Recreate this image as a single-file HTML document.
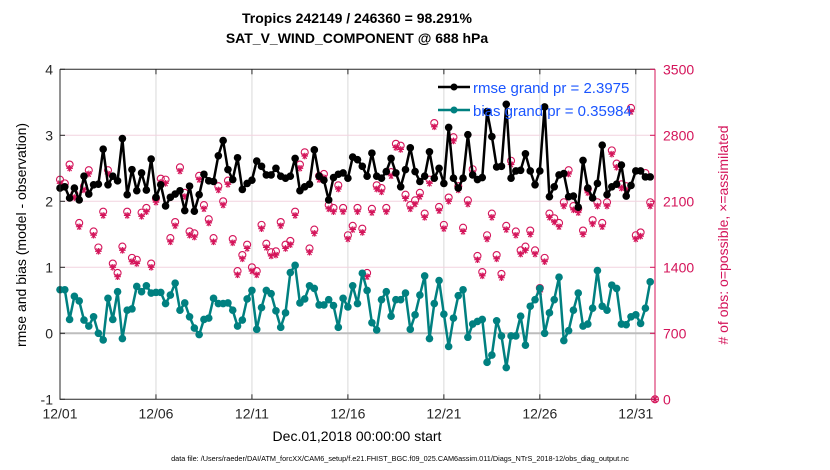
<!DOCTYPE html>
<html><head><meta charset="utf-8">
<style>
html,body{margin:0;padding:0;background:#fff;}
svg{display:block;font-family:"Liberation Sans",sans-serif;}
</style></head>
<body>
<svg id="chart" width="830" height="470" viewBox="0 0 830 470">
<text x="357" y="23" text-anchor="middle" font-size="14" font-weight="bold">Tropics 242149 / 246360 = 98.291%</text>
<text x="357" y="43" text-anchor="middle" font-size="14" font-weight="bold">SAT_V_WIND_COMPONENT @ 688 hPa</text>
<g id="grid"></g>
<g id="marks"></g>
<g id="axes"></g>
<text transform="translate(26,235) rotate(-90)" text-anchor="middle" font-size="14">rmse and bias (model - observation)</text>
<text transform="translate(728,235) rotate(-90)" text-anchor="middle" font-size="14" fill="#d4145a"># of obs: o=possible, ×=assimilated</text>
<text x="357" y="441" text-anchor="middle" font-size="14">Dec.01,2018 00:00:00 start</text>
<text x="400" y="461" text-anchor="middle" font-size="7.3">data file: /Users/raeder/DAI/ATM_forcXX/CAM6_setup/f.e21.FHIST_BGC.f09_025.CAM6assim.011/Diags_NTrS_2018-12/obs_diag_output.nc</text>
<g>
<line x1="438" y1="87" x2="470" y2="87" stroke="#000" stroke-width="2.5"/>
<circle cx="454" cy="87" r="3.5" fill="#000"/>
<text x="473" y="93" font-size="15" fill="#1a55ff">rmse grand pr = 2.3975</text>
<line x1="438" y1="110" x2="470" y2="110" stroke="#008080" stroke-width="2.5"/>
<circle cx="454" cy="110" r="3.5" fill="#008080"/>
<text x="473" y="116" font-size="15" fill="#1a55ff">bias grand pr = 0.35984</text>
</g>
</svg>
<script>
const xTickLabels = ["12/01","12/06","12/11","12/16","12/21","12/26","12/31"];
const xTickDays = [0,5,10,15,20,25,30];
const leftTicks = [-1,0,1,2,3,4];
const rightTicks = [0,700,1400,2100,2800,3500];
const rmse = [2.20,2.22,2.05,2.20,2.02,2.38,2.11,2.25,2.26,2.79,2.25,2.38,2.31,2.95,2.10,2.48,2.16,2.43,2.17,2.64,2.06,2.25,1.93,2.06,2.11,2.16,1.86,2.23,1.85,2.10,2.41,2.31,2.30,
2.69,2.92,2.48,2.33,2.66,2.18,2.27,2.32,2.61,2.53,2.40,2.40,2.50,2.38,2.35,2.38,2.65,2.16,2.22,2.26,2.78,2.38,2.32,2.02,2.36,2.41,2.43,2.35,2.67,2.63,2.53,2.38,
2.73,2.38,2.35,2.45,2.65,2.43,2.22,2.48,2.81,2.45,2.30,2.38,2.75,2.35,2.50,2.27,3.12,2.35,2.20,2.35,3.01,2.40,2.33,2.36,3.36,2.98,2.52,2.53,3.47,2.35,2.46,
2.47,2.72,2.46,2.25,2.46,3.43,2.07,2.22,2.40,2.42,2.07,2.08,1.91,2.62,2.20,2.05,2.27,2.85,2.10,2.22,2.26,2.55,2.08,2.24,2.46,2.46,2.37,2.37];
const bias = [0.66,0.66,0.21,0.56,0.49,0.20,0.11,0.25,0.00,-0.10,0.53,0.21,0.63,-0.08,0.35,0.37,0.71,0.63,0.72,0.61,0.62,0.62,0.45,0.58,0.76,0.35,0.46,0.25,0.08,-0.02,0.21,0.23,0.53,
0.45,0.45,0.46,0.35,0.11,0.20,0.52,0.65,0.06,0.39,0.65,0.60,0.34,0.09,0.31,0.92,1.03,0.46,0.52,0.72,0.68,0.43,0.43,0.51,0.42,0.09,0.53,0.40,0.72,0.45,0.91,0.65,
0.16,0.05,0.51,0.63,0.26,0.51,0.51,0.61,0.06,0.28,0.58,0.87,-0.08,0.45,0.80,0.29,-0.20,0.23,0.57,0.66,-0.06,0.14,0.18,0.21,-0.44,-0.33,0.19,-0.04,-0.52,-0.04,-0.04,
0.26,-0.18,0.41,0.51,0.68,0.00,0.31,0.51,0.85,-0.11,0.04,0.35,0.61,0.11,0.14,0.38,0.95,0.41,0.35,0.73,0.68,0.14,0.13,0.25,0.28,0.15,0.38,0.78];
const possible = [2330,2290,2490,2180,1870,2260,2430,1780,1610,1990,2430,1440,1340,1620,1990,1500,1480,1980,2030,1440,2130,2340,2330,1710,1880,2460,2190,1780,1760,2370,2060,1910,1710,
2260,2100,2320,1700,1360,1530,1640,1400,1360,1850,1650,1560,1570,1880,1640,1680,1990,2490,2620,1600,1800,2370,2390,2060,2030,2270,2030,1740,1840,2030,1810,1340,
2020,2270,2240,2030,2410,2710,2690,2170,2060,2110,2190,1970,2330,2930,2040,1850,2140,2780,2260,1820,2110,2440,1520,1350,1740,1970,1530,1330,1840,2530,1780,1580,
1620,1790,1580,1180,1500,1970,1920,1870,2090,2430,2050,2020,1790,2230,1900,2090,1870,2090,2640,2500,2280,2260,3090,1740,1770,2400,2090,0];
const assimilated = [2290,2250,2450,2140,1830,2220,2390,1740,1570,1950,2390,1400,1300,1580,1950,1460,1440,1940,1990,1400,2090,2300,2290,1670,1840,2420,2150,1740,1720,2330,2020,1870,1670,
2220,2060,2280,1660,1320,1490,1600,1360,1320,1810,1610,1520,1530,1840,1600,1640,1950,2450,2580,1560,1760,2330,2350,2020,1990,2230,1990,1700,1800,1990,1770,1300,
1980,2230,2200,1990,2370,2670,2650,2130,2020,2070,2150,1930,2290,2890,2000,1810,2100,2740,2220,1780,2070,2400,1480,1310,1700,1930,1490,1290,1800,2490,1740,1540,
1580,1750,1540,1140,1460,1930,1880,1830,2050,2390,2010,1980,1750,2190,1860,2050,1830,2050,2600,2460,2240,2220,3050,1700,1730,2360,2050,0];

const NS="http://www.w3.org/2000/svg";
const X0=60,X1=655,Y0=333.3,UNIT=66,TOP=69.3,BOT=399.3,DAYS=31;
function xDay(d){return X0+(X1-X0)*d/DAYS;}
function yL(v){return Y0-UNIT*v;}
function yR(c){return BOT-(BOT-TOP)*c/3500;}
function mk(tag,attrs,parent){const e=document.createElementNS(NS,tag);for(const k in attrs)e.setAttribute(k,attrs[k]);parent.appendChild(e);return e;}
const grid=document.getElementById('grid'),marks=document.getElementById('marks'),axes=document.getElementById('axes');
xTickDays.forEach((d,i)=>{
  if(i>0){const l=mk('line',{x1:xDay(d),x2:xDay(d),y1:TOP,y2:BOT,stroke:'#d9d9d9','stroke-width':1},grid);
  
  }
});
rightTicks.forEach((c,i)=>{
  if(i>0&&i<rightTicks.length-1){const l=mk('line',{x1:X0,x2:X1,y1:yR(c),y2:yR(c),stroke:'#f2d3df','stroke-width':1},grid);
  
  }
});
const z=mk('line',{x1:X0,x2:X1,y1:yL(0),y2:yL(0),stroke:'#bdbdbd','stroke-width':2},grid);


possible.forEach((c,i)=>{
  const x=xDay(i*0.25);
  const o=mk('circle',{cx:x,cy:yR(c),r:3.5,fill:'none',stroke:'#d4145a','stroke-width':1.1},marks);
  
  
  const ya=yR(assimilated[i]), s=3.3;
  const a=mk('path',{d:`M${x-s},${ya}H${x+s}M${x-s*0.6},${ya-s*0.85}L${x+s*0.6},${ya+s*0.85}M${x+s*0.6},${ya-s*0.85}L${x-s*0.6},${ya+s*0.85}M${x},${ya-s}V${ya+s}`,stroke:'#d4145a','stroke-width':1.1,fill:'none'},marks);
  
  
});
function series(vals,color,name){
  const pts=vals.map((v,i)=>xDay(i*0.25).toFixed(1)+','+yL(v).toFixed(1)).join(' ');
  const p=mk('polyline',{points:pts,fill:'none',stroke:color,'stroke-width':2.5,'stroke-linejoin':'round'},marks);
  
  
  vals.forEach((v,i)=>{
    const c=mk('circle',{cx:xDay(i*0.25),cy:yL(v),r:3.8,fill:color},marks);
    
    
  });
}
series(bias,'#008080','bias');
series(rmse,'#000000','rmse');
const fr=mk('path',{d:`M${X0},${TOP}H${X1}M${X0},${TOP}V${BOT}H${X1}`,fill:'none',stroke:'#262626','stroke-width':1},axes);


const ra=mk('line',{x1:X1,x2:X1,y1:TOP,y2:BOT,stroke:'#d4145a','stroke-width':1},axes);


xTickDays.forEach((d,i)=>{
  const x=xDay(d);
  mk('line',{x1:x,x2:x,y1:BOT,y2:BOT-5,stroke:'#262626'},axes);
  mk('line',{x1:x,x2:x,y1:TOP,y2:TOP+5,stroke:'#262626'},axes);
  const t=mk('text',{x:x,y:BOT+19,'text-anchor':'middle','font-size':14,fill:'#262626'},axes);
  t.textContent=xTickLabels[i];
  
  
});
leftTicks.forEach(v=>{
  const y=yL(v);
  mk('line',{x1:X0,x2:X0+5,y1:y,y2:y,stroke:'#262626'},axes);
  const t=mk('text',{x:X0-7,y:y+5,'text-anchor':'end','font-size':14,fill:'#262626'},axes);
  t.textContent=String(v);
  
  
});
rightTicks.forEach(c=>{
  const y=yR(c);
  mk('line',{x1:X1-5,x2:X1,y1:y,y2:y,stroke:'#d4145a'},axes);
  const t=mk('text',{x:X1+8,y:y+5,'font-size':14,fill:'#d4145a'},axes);
  t.textContent=String(c);
  
  
});
</script>
</body></html>
